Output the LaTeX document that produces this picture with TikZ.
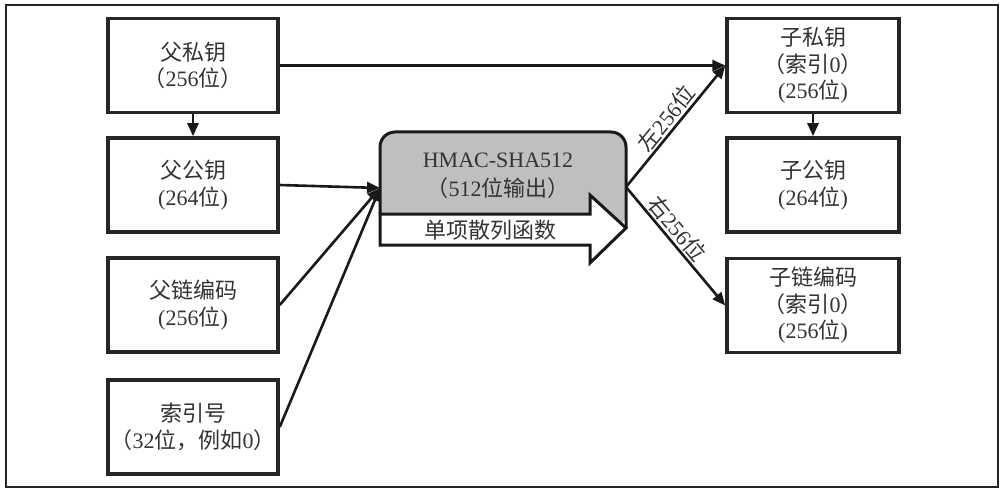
\documentclass[tikz,border=0pt]{standalone}
\usepackage{fontspec}
\setmainfont{Liberation Serif}
\newfontfamily\cjk{Noto Sans CJK SC}
\usetikzlibrary{arrows.meta}
\newcommand{\zh}[1]{{\cjk #1}}
\begin{document}
\begin{tikzpicture}[x=1pt,y=-1pt,
  box/.style={draw=black!85, line width=3.5pt, minimum width=170pt, minimum height=94pt,
    align=center, text=black!80, font=\fontsize{22}{26.5}\selectfont, inner sep=0pt},
  arr/.style={draw=black!90, line width=2.6pt, -{Triangle[length=13pt,width=11pt]}},
  lbl/.style={text=black!80, font=\fontsize{22}{24}\selectfont, inner sep=1pt},
  txt/.style={text=black!80, font=\fontsize{22}{27}\selectfont, inner sep=0pt}
]
\useasboundingbox (0,0) rectangle (1007,492);
\fill[white] (0,0) rectangle (1007,492);
\draw[black!85, line width=1.4pt] (6,5) rectangle (998,487);

% left column
\node[box] (ppriv) at (193,65.5) {\zh{父私钥}\\\zh{（}256\zh{位）}};
\node[box] (ppub)  at (193,185)  {\zh{父公钥}\\(264\zh{位})};
\node[box] (pcc)   at (193,305)  {\zh{父链编码}\\(256\zh{位})};
\node[box] (idx)   at (193,427)  {\zh{索引号}\\\zh{（}32\zh{位，例如}0\zh{）}};

% right column
\node[box, minimum width=172pt] (cpriv) at (813,65.5) {\zh{子私钥}\\\zh{（索引}0\zh{）}\\(256\zh{位})};
\node[box, minimum width=172pt] (cpub)  at (813,185)  {\zh{子公钥}\\(264\zh{位})};
\node[box, minimum width=172pt] (ccc)   at (813,305.5){\zh{子链编码}\\\zh{（索引}0\zh{）}\\(256\zh{位})};

% central HMAC shape
\fill[gray!50, rounded corners=15pt] (380,240) -- (380,132) -- (626,132) -- (626,228) -- (380,228) -- cycle;
\draw[black!90, line width=3pt, rounded corners=15pt] (380,214) -- (380,132) -- (626,132) -- (626,228);
\filldraw[fill=white, draw=black!90, line width=3pt, line join=miter]
  (380,214) -- (590,214) -- (590,195) -- (626,228) -- (590,263) -- (590,245) -- (380,245) -- cycle;
\node[txt] (hmac) at (498,160) {HMAC-SHA512};
\node[txt] (hout512) at (498,188) {\zh{（}512\zh{位输出）}};
\node[txt] (oneway) at (490,230) {\zh{单项散列函数}};
\coordinate (hin) at (380,188);
\coordinate (hout) at (626,187);

% connectors
\draw[arr] (ppriv) -- (ppub);
\draw[arr] (cpriv) -- (cpub);
\draw[arr] (ppriv.east) -- (cpriv.west);
\draw[arr] (ppub.east) -- (hin);
\draw[arr] (pcc.east) -- (hin);
\draw[arr] (idx.east) -- (hin);
\draw[arr] (hout) -- node[lbl, sloped, above, pos=0.5] (lleft) {\zh{左}256\zh{位}} (cpriv.west);
\draw[arr] (hout) -- node[lbl, sloped, above, pos=0.42] (lright) {\zh{右}256\zh{位}} (ccc.west);
\end{tikzpicture}
\end{document}
